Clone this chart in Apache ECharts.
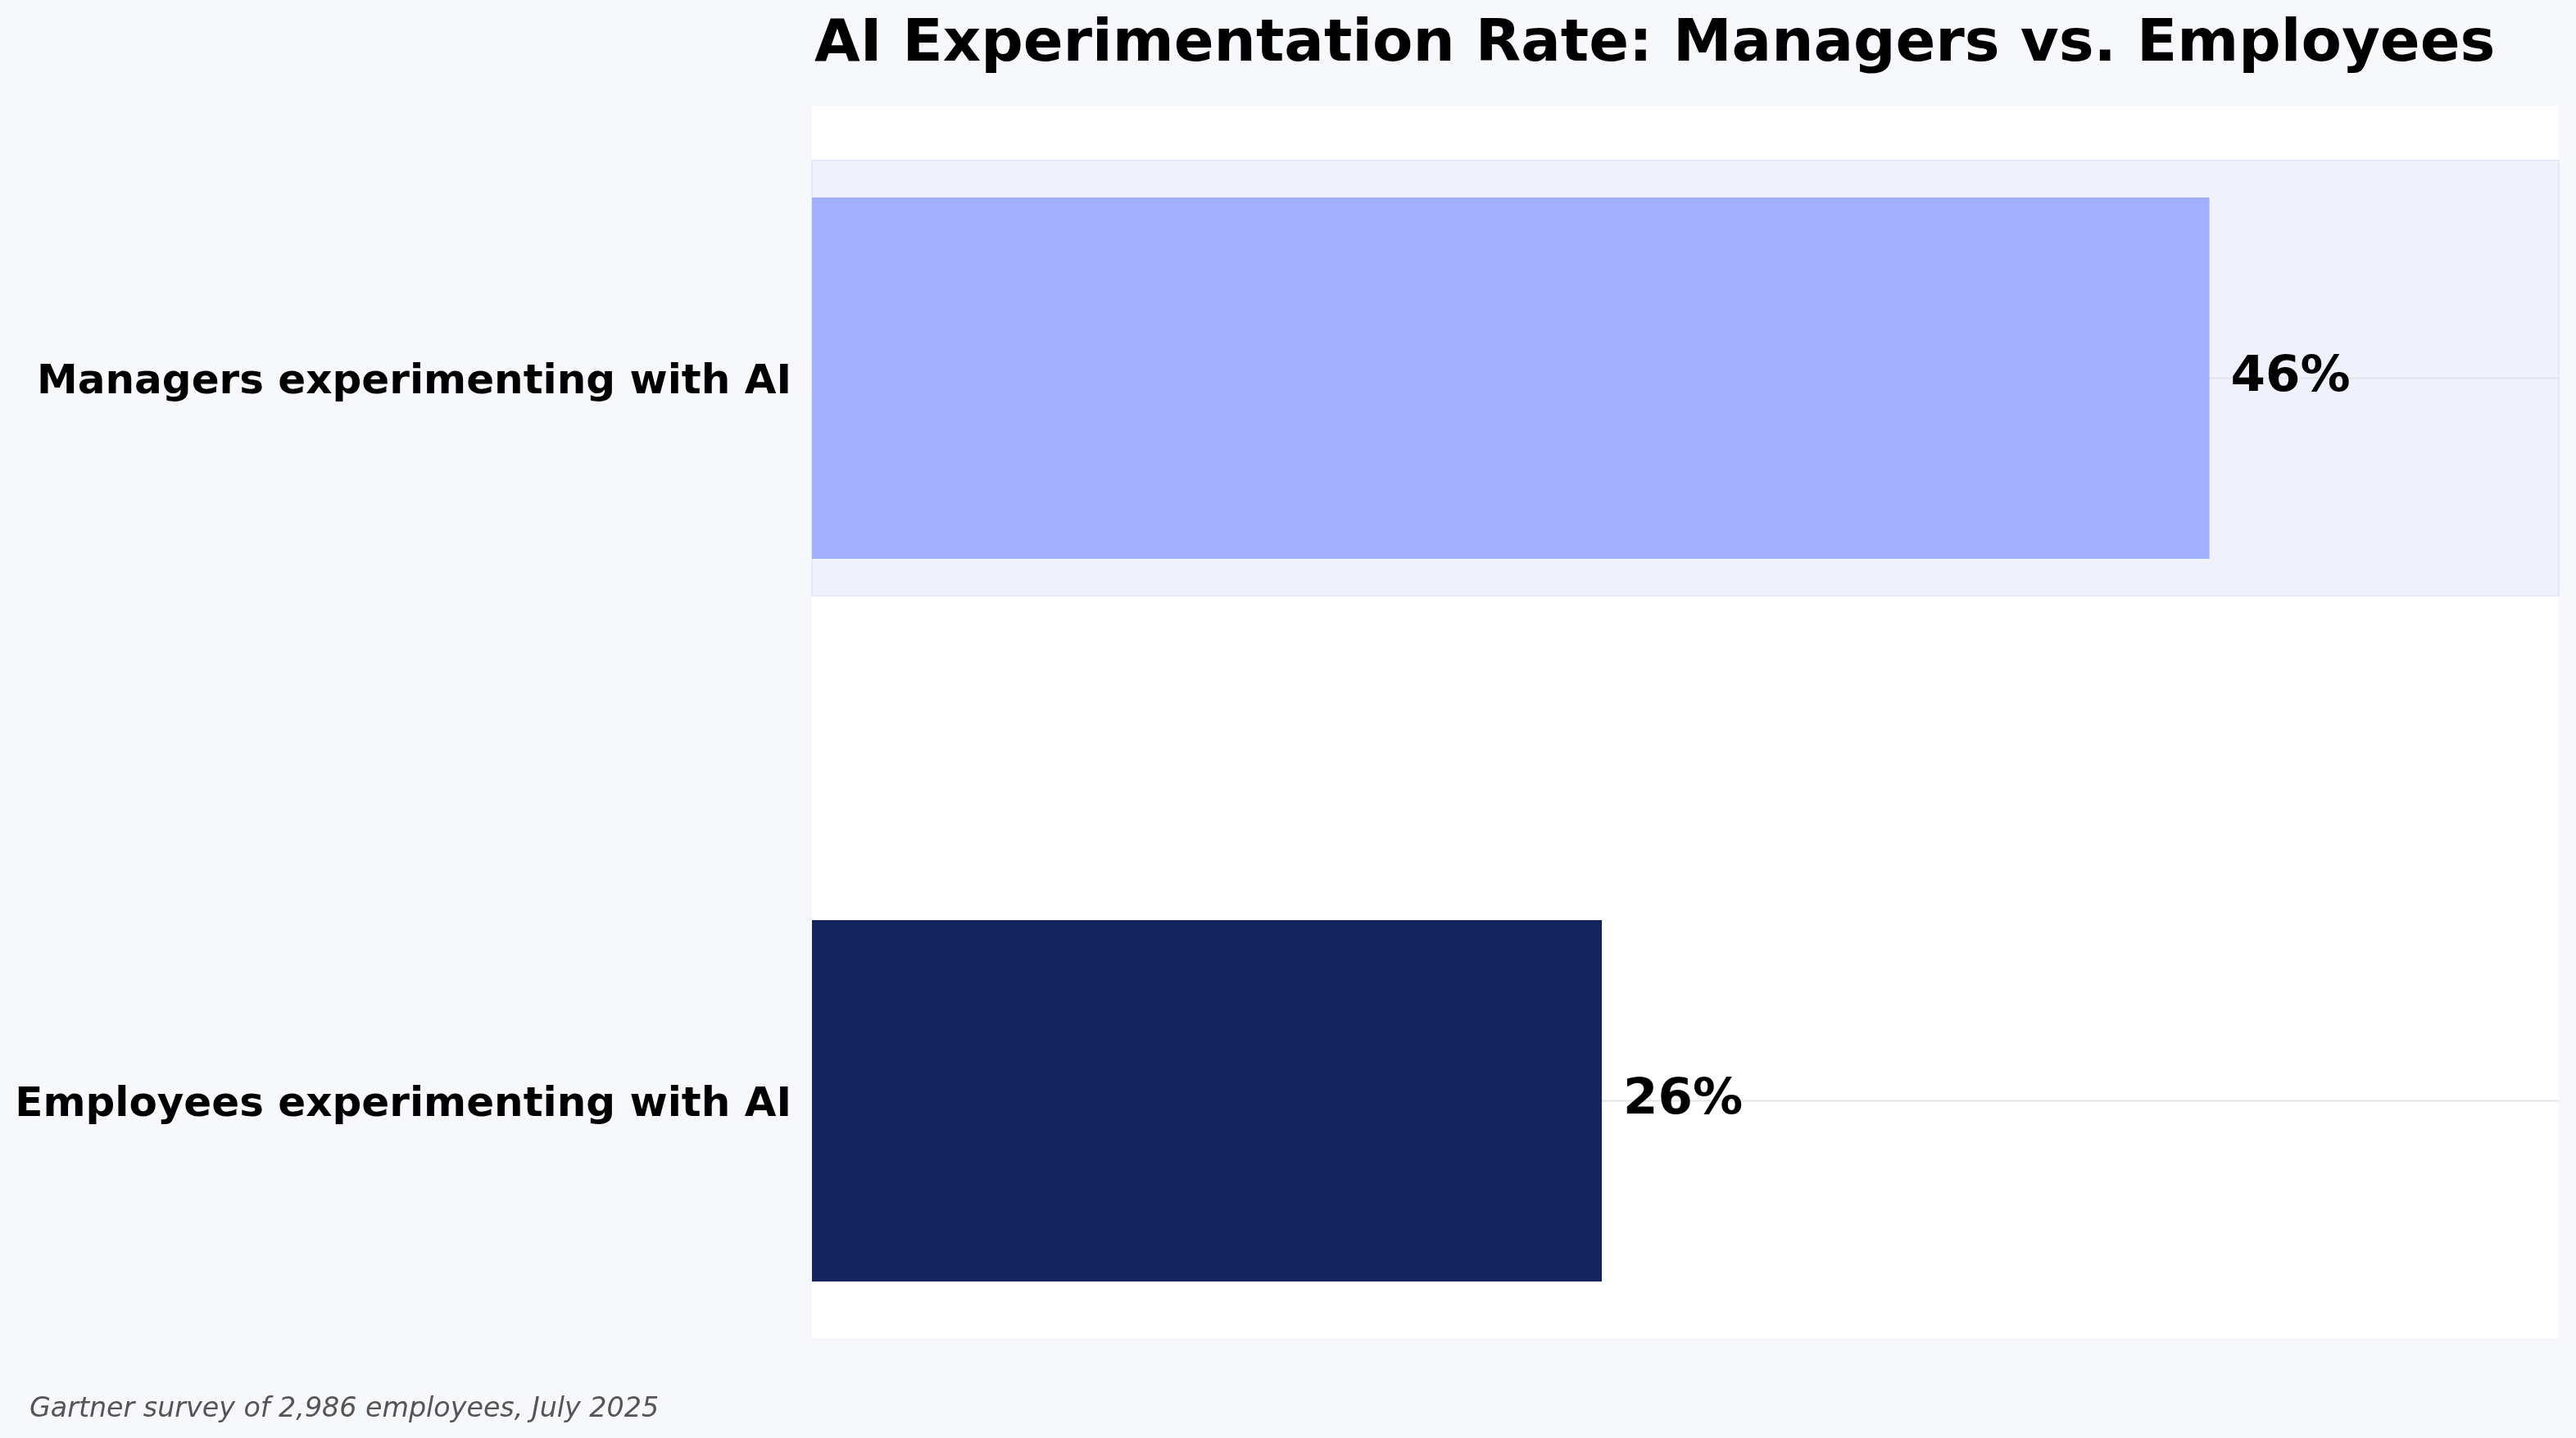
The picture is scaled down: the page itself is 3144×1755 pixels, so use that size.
<!DOCTYPE html>
<html>
<head>
<meta charset="utf-8">
<script src="https://cdn.jsdelivr.net/npm/echarts@6/dist/echarts.min.js"></script>
<style>
  html, body { margin: 0; padding: 0; background: #f7f8fc; }
  #chart { width: 3144px; height: 1755px; }
</style>
</head>
<body>
<div id="chart"></div>
<script>
// data
const categories = ['Managers experimenting with AI', 'Employees experimenting with AI'];
const rates = [46, 26];
const barColors = ['#a0b0fe', '#14245e'];
const xMax = 57.5; // 46 * 1.25
const bandHalf = 0.301; // highlight behind the first bar, in category steps

const font = 'DejaVu Sans';
const chart = echarts.init(document.getElementById('chart'));

// plot area (white) and the grid that places the two category centres
const plot = { left: 991, top: 129, right: 3123, bottom: 1633 };
const step = 882; // distance between the category centres
const gridTop = 461.5 - step / 2;

const barData = rates.map((v, i) => ({
  value: v,
  itemStyle: { color: barColors[i] },
}));

chart.setOption({
  backgroundColor: '#f7f8fc',
  animation: false,
  title: {
    text: 'AI Experimentation Rate: Managers vs. Employees',
    left: 989,
    top: 14,
    textStyle: { fontFamily: font, fontSize: 72, fontWeight: 'bold', color: '#000' },
  },
  grid: {
    left: plot.left, width: plot.right - plot.left,
    top: gridTop, height: step * 2,
    outerBoundsMode: 'none',
    containLabel: false,
    show: false,
  },
  xAxis: {
    type: 'value', min: 0, max: xMax,
    axisLine: { show: false }, axisTick: { show: false },
    axisLabel: { show: false }, splitLine: { show: false },
  },
  yAxis: {
    type: 'category', inverse: true, data: categories,
    axisLine: { show: false }, axisTick: { show: false },
    splitLine: { show: false },
    axisLabel: {
      margin: 25, verticalAlign: 'top', lineHeight: 11,
      fontFamily: font, fontSize: 50, fontWeight: 'bold', color: '#000',
    },
  },
  series: [
    {
      type: 'bar', z: 2,
      barWidth: '50%',
      data: barData,
      label: {
        show: true, position: 'right', distance: 26,
        fontFamily: font, fontSize: 61, fontWeight: 'bold', color: '#000',
        padding: [4, 0, 0, 0],
        formatter: (p) => p.value + '%',
      },
    },
  ],
});

// plot background, highlight band and grid lines, all under the bars
const centres = categories.map((c) => chart.convertToPixel({ yAxisIndex: 0 }, c));
const half = Math.abs(centres[1] - centres[0]) * bandHalf;
const plotW = plot.right - plot.left;
const graphics = [
  {
    type: 'rect', z: -10, silent: true,
    shape: { x: plot.left, y: plot.top, width: plotW, height: plot.bottom - plot.top },
    style: { fill: '#ffffff' },
  },
  {
    type: 'rect', z: -8, silent: true,
    shape: { x: plot.left, y: centres[0] - half, width: plotW, height: half * 2 },
    style: { fill: '#eff2fd', stroke: '#e5e9fa', lineWidth: 2 },
  },
];
centres.forEach((y) => {
  graphics.push({
    type: 'line', z: -6, silent: true,
    shape: { x1: plot.left, y1: y, x2: plot.right, y2: y },
    style: { stroke: '#e4e4ea', lineWidth: 2 },
  });
});
graphics.push({
  type: 'text', left: 36, top: 1704, z: 1,
  style: {
    text: 'Gartner survey of 2,986 employees, July 2025',
    fontFamily: font, fontSize: 33.3, fontStyle: 'italic', fill: '#555555',
  },
});
chart.setOption({ graphic: graphics });
</script>
</body>
</html>
